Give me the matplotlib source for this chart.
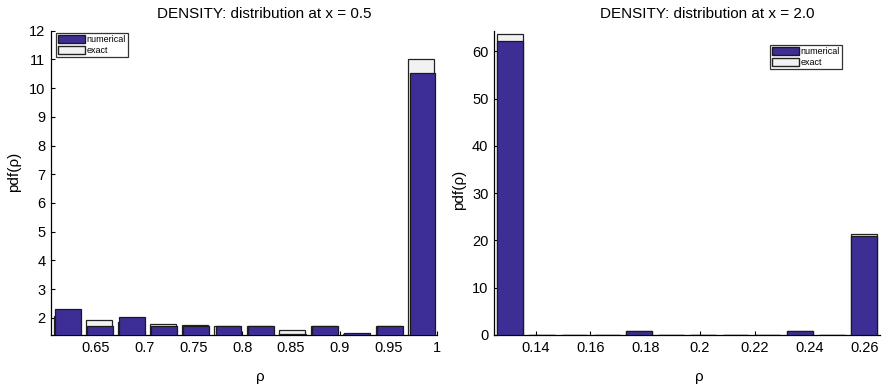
import matplotlib
matplotlib.use("Agg")
import matplotlib.pyplot as plt
from matplotlib.patches import Patch

plt.rcParams['font.family'] = ['Liberation Sans', 'DejaVu Sans']

# left panel: x = 0.5
centers_05 = [0.621, 0.654, 0.687, 0.720, 0.753, 0.786, 0.819, 0.852, 0.885, 0.918, 0.952, 0.985]
numerical_05 = [2.31, 1.72, 2.02, 1.72, 1.72, 1.72, 1.72, 1.45, 1.72, 1.46, 1.72, 10.51]
exact_05 = [2.05, 1.93, 1.86, 1.79, 1.74, 1.70, 1.70, 1.56, 1.70, 1.45, 1.70, 11.02]
xticks_05 = [0.65, 0.7, 0.75, 0.8, 0.85, 0.9, 0.95, 1.0]
xticklabels_05 = ['0.65', '0.7', '0.75', '0.8', '0.85', '0.9', '0.95', '1']
yticks_05 = [2, 3, 4, 5, 6, 7, 8, 9, 10, 11, 12]

# right panel: x = 2.0
centers_20 = [0.1307, 0.1424, 0.1542, 0.1659, 0.1777, 0.1894, 0.2011, 0.2129, 0.2246, 0.2364, 0.2481, 0.2598]
numerical_20 = [62.3, 0, 0, 0, 0.75, 0, 0, 0, 0, 0.75, 0, 21.0]
exact_20 = [63.7, 0, 0, 0, 0.9, 0, 0, 0, 0, 0.9, 0, 21.35]
xticks_20 = [0.14, 0.16, 0.18, 0.2, 0.22, 0.24, 0.26]
xticklabels_20 = ['0.14', '0.16', '0.18', '0.2', '0.22', '0.24', '0.26']
yticks_20 = [0, 10, 20, 30, 40, 50, 60]

NUM_COLOR = '#3c2e95'
EX_COLOR = '#f2f2f2'

fig = plt.figure(figsize=(8.86, 3.87), dpi=100)
ax1 = fig.add_axes([0.0576, 0.1344, 0.4357, 0.7863])
ax2 = fig.add_axes([0.5576, 0.1344, 0.4357, 0.7863])


def panel(ax, centers, num, ex, width, shift, xlim, ylim, xticks, xtl, yticks, title, leg_anchor, leg_loc):
    # exact histogram behind, numerical in front
    ax.bar([c - shift for c in centers], ex, width=width, color=EX_COLOR,
           edgecolor='#222222', linewidth=0.9, zorder=2)
    ax.bar(centers, num, width=width, color=NUM_COLOR,
           edgecolor='#1a1a1a', linewidth=0.9, zorder=3)
    ax.set_xlim(*xlim)
    ax.set_ylim(*ylim)
    ax.set_xticks(xticks)
    ax.set_xticklabels(xtl)
    ax.set_yticks(yticks)
    ax.tick_params(direction='in', length=3, width=0.8, labelsize=10.5, pad=4)
    for s in ('top', 'right'):
        ax.spines[s].set_visible(False)
    for s in ('left', 'bottom'):
        ax.spines[s].set_linewidth(0.9)
    ax.set_title(title, fontsize=11, x=0.552, pad=9)
    ax.set_xlabel('ρ', fontsize=11)
    ax.set_ylabel('pdf(ρ)', fontsize=11)
    handles = [Patch(facecolor=NUM_COLOR, edgecolor='#1a1a1a', label='numerical'),
               Patch(facecolor=EX_COLOR, edgecolor='#222222', label='exact')]
    leg = ax.legend(handles=handles, loc=leg_loc, bbox_to_anchor=leg_anchor,
                    fontsize=6.5, frameon=True, fancybox=False, handlelength=3.0,
                    handleheight=1.0, handletextpad=0.2, labelspacing=0.15,
                    borderpad=0.25, borderaxespad=0)
    leg.get_frame().set_edgecolor('black')
    leg.get_frame().set_linewidth(0.9)


panel(ax1, centers_05, numerical_05, exact_05, 0.0265, 0.0012, (0.604, 1.0), (1.4, 12),
      xticks_05, xticklabels_05, yticks_05, 'DENSITY: distribution at x = 0.5',
      (0.012, 0.993), 'upper left')
panel(ax2, centers_20, numerical_20, exact_20, 0.0094, 0.0, (0.1248, 0.2657), (0, 64.4),
      xticks_20, xticklabels_20, yticks_20, 'DENSITY: distribution at x = 2.0',
      (0.902, 0.953), 'upper right')

ax1.yaxis.set_label_coords(-0.078, 0.537)
ax2.yaxis.set_label_coords(-0.073, 0.476)
ax1.xaxis.set_label_coords(0.541, -0.115)
ax2.xaxis.set_label_coords(0.533, -0.115)

fig.savefig('out.png', dpi=100)
